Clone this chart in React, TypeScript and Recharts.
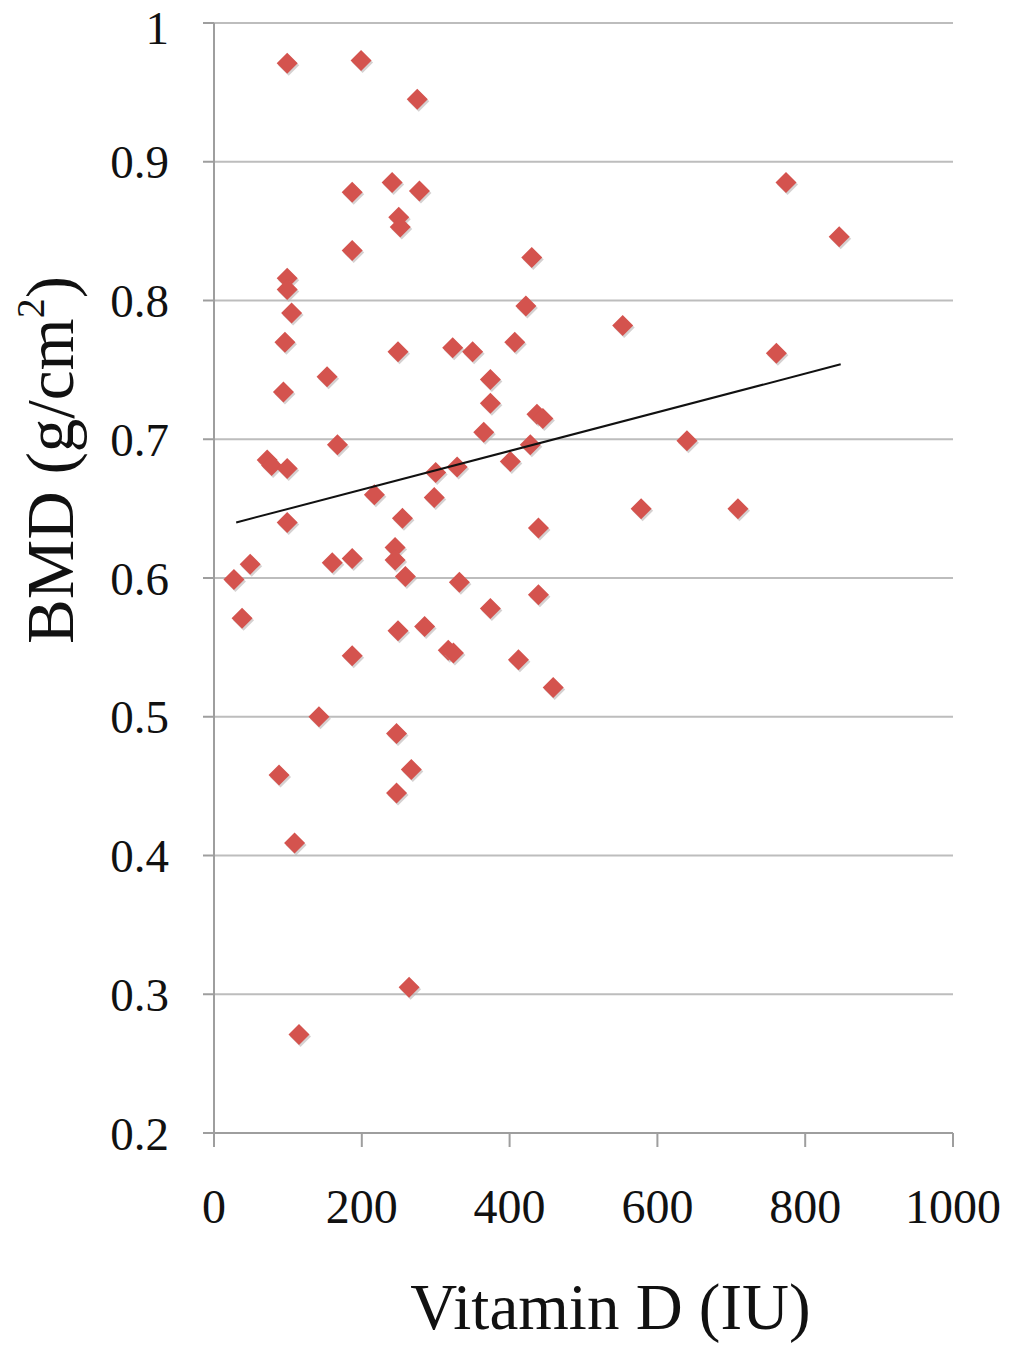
import React from 'react';
import { ScatterChart, Scatter, XAxis, YAxis, CartesianGrid } from 'recharts';

// Vitamin D intake (IU) for each subject
const vitaminD = [
  99, 199, 275, 241, 187, 278, 250, 252, 187, 430,
  99, 99, 105, 422, 553, 774, 846, 96, 249, 323,
  350, 407, 761, 153, 374, 374, 94, 437, 445, 167,
  365, 428, 640, 72, 78, 99, 401, 300, 329, 217,
  298, 255, 99, 578, 709, 439, 245, 245, 259, 27,
  49, 160, 187, 332, 38, 439, 374, 249, 285, 317,
  324, 187, 412, 459, 142, 247, 88, 267, 247, 109,
  264, 115,
];

// BMD (g/cm2) for each subject
const bmd = [
  0.971, 0.973, 0.945, 0.885, 0.878, 0.879, 0.86, 0.853, 0.836, 0.831,
  0.816, 0.808, 0.791, 0.796, 0.782, 0.885, 0.846, 0.77, 0.763, 0.766,
  0.763, 0.77, 0.762, 0.745, 0.743, 0.726, 0.734, 0.718, 0.715, 0.696,
  0.705, 0.696, 0.699, 0.685, 0.681, 0.679, 0.684, 0.676, 0.68, 0.66,
  0.658, 0.643, 0.64, 0.65, 0.65, 0.636, 0.622, 0.613, 0.601, 0.599,
  0.61, 0.611, 0.614, 0.597, 0.571, 0.588, 0.578, 0.562, 0.565, 0.548,
  0.546, 0.544, 0.541, 0.521, 0.5, 0.488, 0.458, 0.462, 0.445, 0.409,
  0.305, 0.271,
];

// linear trend line end points
const trendX = [30, 848];
const trendY = [0.64, 0.754];

const xTicks = [0, 200, 400, 600, 800, 1000];
const yTicks = [0.2, 0.3, 0.4, 0.5, 0.6, 0.7, 0.8, 0.9, 1];

const points = vitaminD.map((x, i) => ({ x, y: bmd[i] }));
const trend = trendX.map((x, i) => ({ x, y: trendY[i] }));

const font = '"Liberation Serif", "Times New Roman", serif';

const Diamond = (props: any) => {
  const { cx, cy } = props;
  if (cx == null || cy == null) return null;
  const r = 10.5;
  const d = (ox: number, oy: number) =>
    `M${cx + ox},${cy - r + oy} L${cx + r + ox},${cy + oy} L${cx + ox},${cy + r + oy} L${cx - r + ox},${cy + oy} Z`;
  return (
    <g>
      <path d={d(1.5, 2)} fill="#b9b3b3" opacity={0.6} />
      <path d={d(0, 0)} fill="#d4534e" />
    </g>
  );
};

const NoDot = () => null;

// y axis title, placed like the original (above the plot's middle)
const YTitle = (props: any) => {
  const { viewBox } = props;
  const x = viewBox.x + 50;
  const y = viewBox.y + 437;
  return (
    <text
      x={x}
      y={y}
      transform={`rotate(-90, ${x}, ${y})`}
      textAnchor="middle"
      dominantBaseline="central"
      fill="#111"
      fontSize={67}
      fontFamily={font}
    >
      BMD (g/cm
      <tspan fontSize={40} dy={-20}>2</tspan>
      <tspan dy={20}>)</tspan>
    </text>
  );
};

const App = () => {
  return (
    <div style={{ marginLeft: -8, marginTop: -8 }}>
      <ScatterChart
        width={1015}
        height={1349}
        margin={{ top: 23, right: 62, left: 0, bottom: 0 }}
        style={{ background: '#fff' }}
      >
        <CartesianGrid horizontal={true} vertical={false} stroke="#bdbdbd" strokeWidth={2} />
        <XAxis
          type="number"
          dataKey="x"
          domain={[0, 1000]}
          ticks={xTicks}
          height={216}
          stroke="#9e9e9e"
          strokeWidth={2}
          tickSize={14}
          tickMargin={42}
          tick={{ fill: '#111', fontSize: 48, fontFamily: font }}
          label={{
            value: 'Vitamin D (IU)',
            position: 'insideBottom',
            offset: 20,
            dx: 27,
            style: { fill: '#111', fontSize: 65, fontFamily: font },
          }}
        />
        <YAxis
          type="number"
          dataKey="y"
          domain={[0.2, 1]}
          ticks={yTicks}
          width={214}
          stroke="#9e9e9e"
          strokeWidth={2}
          tickSize={11}
          tickMargin={34}
          tickFormatter={(v: number) => String(v)}
          tick={{ fill: '#111', fontSize: 47, fontFamily: font }}
          label={<YTitle />}
        />
        <Scatter data={points} shape={<Diamond />} isAnimationActive={false} />
        <Scatter
          data={trend}
          line={{ stroke: '#111', strokeWidth: 2 }}
          shape={<NoDot />}
          isAnimationActive={false}
        />
      </ScatterChart>
    </div>
  );
};

export default App;
